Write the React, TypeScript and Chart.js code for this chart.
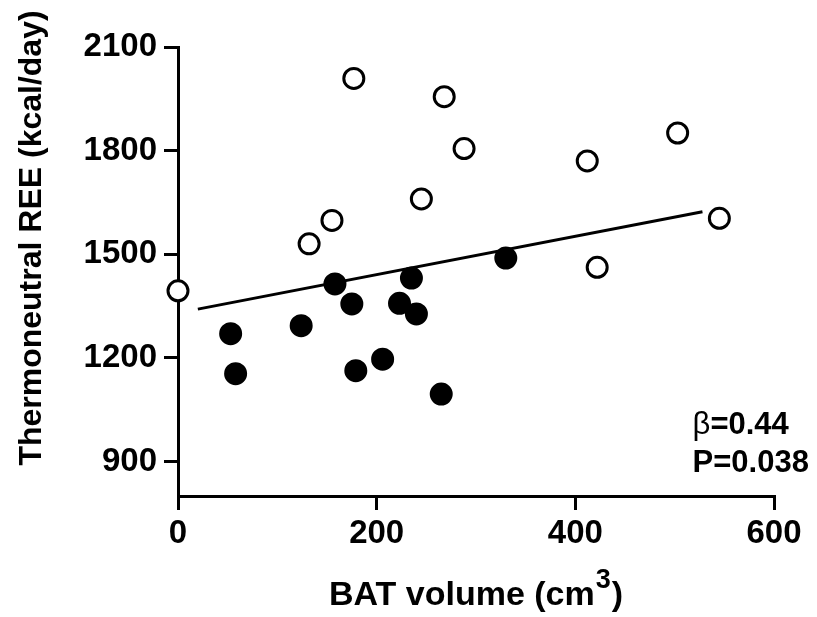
import React, { useEffect, useRef } from "react";
import { Chart, registerables } from "chart.js";

Chart.register(...registerables);

const FONT = "'Liberation Sans', Arial, Helvetica, sans-serif";

// Axis ticks
const xTickValues = [0, 200, 400, 600];
const yTickValues = [900, 1200, 1500, 1800, 2100];

// Open circles
const openX = [0, 132, 155, 177, 245, 268, 288, 412, 422, 503, 545];
const openY = [1394, 1530, 1598, 2009, 1660, 1956, 1806, 1770, 1462, 1851, 1604];

// Filled circles
const filledX = [53, 58, 124, 158, 175, 179, 206, 223, 235, 240, 265, 330];
const filledY = [1270, 1154, 1293, 1414, 1356, 1163, 1196, 1358, 1431, 1327, 1095, 1489];

// Regression line end points
const fitX = [20, 528];
const fitY = [1341, 1623];

// Texts
const yTitle = "Thermoneutral REE (kcal/day)";
const xTitleMain = "BAT volume (cm";
const xTitleSup = "3";
const xTitleEnd = ")";
const betaSymbol = "β";
const betaText = "=0.44";
const pText = "P=0.038";
const statX = 518;
const statY = [980, 870];

const titlePlugin = {
  id: "customTexts",
  afterDraw(chart: any) {
    const ctx = chart.ctx;
    const { left, right, bottom } = chart.chartArea;
    ctx.save();
    ctx.fillStyle = "#000";
    ctx.textBaseline = "alphabetic";
    ctx.textAlign = "left";
    // x title with superscript
    const big = `bold 34px ${FONT}`;
    const small = `bold 27px ${FONT}`;
    ctx.font = big;
    const w1 = ctx.measureText(xTitleMain).width;
    const w3 = ctx.measureText(xTitleEnd).width;
    ctx.font = small;
    const w2 = ctx.measureText(xTitleSup).width;
    const total = w1 + w2 + w3 + 2;
    let x = (left + right) / 2 - total / 2;
    const y = bottom + 109;
    ctx.font = big;
    ctx.fillText(xTitleMain, x, y);
    x += w1 + 1;
    ctx.font = small;
    ctx.fillText(xTitleSup, x, y - 17);
    x += w2 + 1;
    ctx.font = big;
    ctx.fillText(xTitleEnd, x, y);

    // y title (rotated)
    ctx.save();
    ctx.translate(32, 238);
    ctx.rotate(-Math.PI / 2);
    ctx.textAlign = "center";
    ctx.textBaseline = "middle";
    ctx.font = `bold 32px ${FONT}`;
    ctx.fillText(yTitle, 0, 0);
    ctx.restore();

    // stats annotation
    const xs = chart.scales.x;
    const ys = chart.scales.y;
    const sx = xs.getPixelForValue(statX);
    const y1 = ys.getPixelForValue(statY[0]);
    const y2 = ys.getPixelForValue(statY[1]);
    ctx.textAlign = "left";
    ctx.textBaseline = "alphabetic";
    ctx.font = `31px ${FONT}`;
    ctx.fillText(betaSymbol, sx, y1);
    const wb = ctx.measureText(betaSymbol).width;
    ctx.font = `bold 31px ${FONT}`;
    ctx.fillText(betaText, sx + wb, y1);
    ctx.fillText(pText, sx, y2);
    ctx.restore();
  },
};

export default function App() {
  const canvasRef = useRef<HTMLCanvasElement | null>(null);

  useEffect(() => {
    document.body.style.margin = "0";
    const canvas = canvasRef.current;
    if (!canvas) return;
    const tickFont = { family: FONT, size: 33, weight: "bold" as const };
    const fmt = (v: any) => String(v);
    const chart = new Chart(canvas, {
      type: "scatter",
      data: {
        datasets: [
          {
            label: "open",
            data: openX.map((v, i) => ({ x: v, y: openY[i] })),
            pointRadius: 10,
            pointHoverRadius: 10,
            pointBorderWidth: 3,
            pointBackgroundColor: "#fff",
            pointBorderColor: "#000",
            borderColor: "#000",
            backgroundColor: "#fff",
            clip: false as any,
            order: 1,
          },
          {
            label: "filled",
            data: filledX.map((v, i) => ({ x: v, y: filledY[i] })),
            pointRadius: 10,
            pointHoverRadius: 10,
            pointBorderWidth: 3,
            pointBackgroundColor: "#000",
            pointBorderColor: "#000",
            borderColor: "#000",
            backgroundColor: "#000",
            clip: false as any,
            order: 1,
          },
          {
            label: "fit",
            data: fitX.map((v, i) => ({ x: v, y: fitY[i] })),
            showLine: true,
            pointRadius: 0,
            borderColor: "#000",
            borderWidth: 3,
            order: 5,
          } as any,
        ],
      },
      options: {
        responsive: false,
        animation: false,
        devicePixelRatio: 1,
        layout: { padding: { top: 47, right: 43, left: 0, bottom: 0 } },
        plugins: {
          legend: { display: false },
          tooltip: { enabled: false },
        },
        scales: {
          x: {
            type: "linear",
            min: 0,
            max: 600,
            afterBuildTicks: (s: any) => {
              s.ticks = xTickValues.map((v) => ({ value: v }));
            },
            afterFit: (s: any) => {
              s.height = 121;
            },
            border: { display: true, color: "#000", width: 3 },
            grid: {
              drawOnChartArea: false,
              drawTicks: true,
              tickLength: 14,
              color: "#000",
              lineWidth: 3,
            },
            ticks: { color: "#000", font: tickFont, padding: 4, maxRotation: 0, callback: fmt },
          },
          y: {
            type: "linear",
            min: 800,
            max: 2100,
            afterBuildTicks: (s: any) => {
              s.ticks = yTickValues.map((v) => ({ value: v }));
            },
            afterFit: (s: any) => {
              s.width = 178;
            },
            border: { display: true, color: "#000", width: 3 },
            grid: {
              drawOnChartArea: false,
              drawTicks: true,
              tickLength: 14,
              color: "#000",
              lineWidth: 3,
            },
            ticks: { color: "#000", font: tickFont, padding: 7, callback: fmt },
          },
        },
      },
      plugins: [titlePlugin],
    });
    return () => chart.destroy();
  }, []);

  return (
    <div style={{ width: 817, height: 617, background: "#fff" }}>
      <canvas ref={canvasRef} width={817} height={617} />
    </div>
  );
}
